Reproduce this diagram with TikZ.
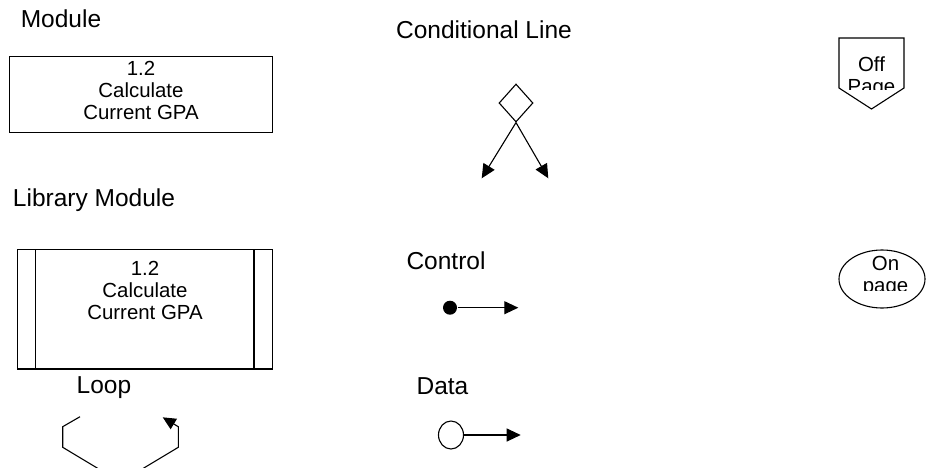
\documentclass[tikz,border=0pt]{standalone}
\usepackage{fontspec}
\setmainfont{Liberation Sans}
\usetikzlibrary{arrows.meta,shapes.geometric}
\begin{document}
\begin{tikzpicture}[x=1pt,y=-1pt,line width=1.1pt,
  lbl/.style={font=\fontsize{24.5}{28}\selectfont,inner sep=0pt,anchor=base},
  boxtxt/.style={font=\fontsize{20.4}{22}\selectfont,align=center,inner sep=0pt,anchor=north},
  frame/.style={draw,anchor=north west,inner sep=0pt,outer sep=0pt},
  arr/.style={-{Triangle[length=14pt,width=13pt]}},
  loopArr/.style={-{Triangle[length=13pt,width=12pt]}}]
\useasboundingbox (0,0) rectangle (927,467);

% labels
\node[lbl] (lmod) at (61,27) {Module};
\node[lbl] (lcond) at (484,38) {Conditional Line};
\node[lbl] (llib) at (94,206.5) {Library Module};
\node[lbl] (lctl) at (446,269) {Control};
\node[lbl] (lloop) at (104,393) {Loop};
\node[lbl] (ldata) at (442.5,394) {Data};

% module box
\node[frame,minimum width=262.5pt,minimum height=75.5pt] (mod) at (9.7,56.7) {};
\node[boxtxt] (modt) at (141,61) {1.2\\Calculate\\Current GPA};

% library module box
\node[frame,minimum width=255.4pt,minimum height=119.7pt] (lib) at (17.3,249.3) {};
\draw ([xshift=18.4pt]lib.north west) -- ([xshift=18.4pt]lib.south west);
\draw ([xshift=-18.7pt]lib.north east) -- ([xshift=-18.7pt]lib.south east);
\node[boxtxt] (libt) at (145,261) {1.2\\Calculate\\Current GPA};

% conditional line
\node[diamond,draw,minimum width=34pt,minimum height=38pt,inner sep=0pt] (dia) at (516,103) {};
\coordinate (ctl) at (481.7,178.3);
\coordinate (ctr) at (548.3,178.3);
\draw[arr] (dia.south) -- (ctl);
\draw[arr] (dia.south) -- (ctr);

% control
\node[circle,fill,minimum size=14pt,inner sep=0pt] (cdot) at (450,307.7) {};
\coordinate (cend) at (518.3,307.7);
\draw[arr] (cdot) -- (cend);

% data
\node[ellipse,draw,minimum width=25pt,minimum height=28pt,inner sep=0pt] (ddot) at (451,435) {};
\coordinate (dend) at (520.7,435);
\draw[arr] (ddot) -- (dend);

% loop
\begin{scope}
\clip (0,0) rectangle (927,467);
\draw[loopArr] (80,416.7) -- (62.7,426.7) -- (62.7,447.3) -- (120.5,482)
  -- (178.3,447.3) -- (178.3,426.7) -- (162.7,417.3);
\end{scope}

% off page
\draw (839,38) -- (904,38) -- (904,88) -- (871.5,109) -- (839,88) -- cycle;
\begin{scope}
\clip (839,38) rectangle (904,89);
\node[boxtxt] (offt) at (871.5,56) {Off\\Page};
\end{scope}

% on page
\node[ellipse,draw,minimum width=86pt,minimum height=58pt,inner sep=0pt] (onp) at (882,279) {};
\begin{scope}
\clip (845,252) rectangle (920,290.5);
\node[boxtxt] (ont) at (885.5,256) {On\\page};
\end{scope}
\end{tikzpicture}
\end{document}
